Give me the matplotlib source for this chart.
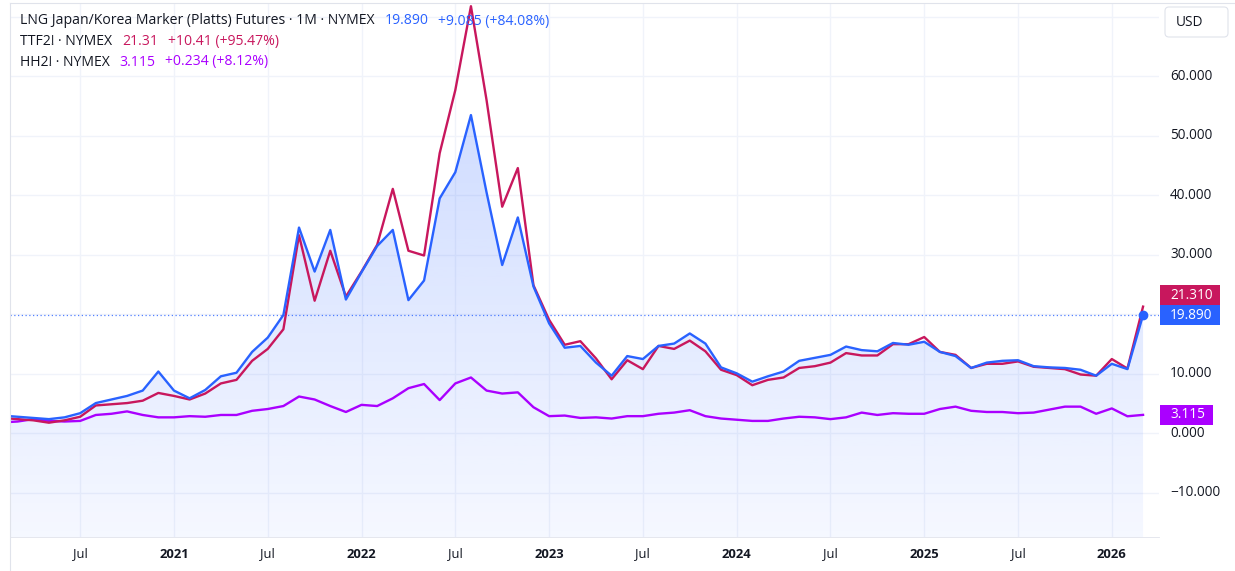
import numpy as np
import matplotlib
matplotlib.use("Agg")
import matplotlib.pyplot as plt
import matplotlib.transforms as mtransforms
from matplotlib.colors import LinearSegmentedColormap
from matplotlib.patches import Rectangle, FancyBboxPatch, Polygon
from matplotlib.lines import Line2D

plt.rcParams['font.family'] = ['Open Sans', 'DejaVu Sans']

# ---------------- data (monthly, Feb 2020 .. Mar 2026) ----------------
first_month = "2020-02"
lng = [3.0, 2.8, 2.6, 2.4, 2.7, 3.4, 5.1, 5.7, 6.3, 7.2, 10.4,
       7.2, 5.9, 7.3, 9.6, 10.2, 13.7, 16.1, 19.9, 34.6, 27.2, 34.2, 22.5,
       27.1, 31.5, 34.2, 22.4, 25.7, 39.5, 43.9, 53.5, 40.5, 28.3, 36.3, 24.7,
       18.5, 14.4, 14.7, 11.9, 9.7, 13.0, 12.5, 14.7, 15.1, 16.8, 15.1, 11.1,
       10.1, 8.7, 9.6, 10.4, 12.2, 12.7, 13.2, 14.6, 14.0, 13.8, 15.2, 14.9,
       15.4, 13.7, 13.0, 11.0, 11.9, 12.2, 12.3, 11.3, 11.1, 11.0, 10.7, 9.7,
       11.7, 10.805, 19.89]
ttf = [2.6, 2.4, 2.2, 1.8, 2.2, 2.8, 4.7, 4.9, 5.1, 5.5, 6.8,
       6.3, 5.7, 6.7, 8.4, 9.0, 12.2, 14.2, 17.5, 33.3, 22.3, 30.7, 23.0,
       27.2, 31.7, 41.1, 30.7, 29.9, 47.1, 57.7, 71.8, 56.0, 38.1, 44.6, 24.9,
       19.1, 14.9, 15.5, 12.6, 9.1, 12.3, 10.8, 14.7, 14.2, 15.6, 13.8, 10.7,
       9.8, 8.1, 9.0, 9.4, 11.0, 11.3, 11.9, 13.5, 13.1, 13.1, 15.0, 15.0,
       16.2, 13.7, 13.2, 11.0, 11.7, 11.7, 12.1, 11.2, 11.0, 10.8, 9.9, 9.7,
       12.5, 10.90, 21.31]
hh = [1.85, 2.0, 2.4, 2.1, 2.0, 2.1, 3.1, 3.3, 3.7, 3.1, 2.7,
      2.7, 2.9, 2.8, 3.1, 3.1, 3.8, 4.1, 4.6, 6.2, 5.7, 4.6, 3.6,
      4.8, 4.6, 5.9, 7.6, 8.3, 5.6, 8.4, 9.4, 7.2, 6.7, 6.9, 4.4,
      2.9, 3.0, 2.6, 2.7, 2.5, 2.9, 2.9, 3.3, 3.5, 3.9, 2.9, 2.5,
      2.3, 2.1, 2.1, 2.5, 2.8, 2.7, 2.4, 2.7, 3.5, 3.1, 3.4, 3.3,
      3.3, 4.1, 4.5, 3.8, 3.6, 3.6, 3.4, 3.5, 4.0, 4.5, 4.5, 3.3,
      4.2, 2.881, 3.115]

tick_months = ["2020-07", "2021-01", "2021-07", "2022-01", "2022-07", "2023-01",
               "2023-07", "2024-01", "2024-07", "2025-01", "2025-07", "2026-01"]
tick_labels = ["Jul", "2021", "Jul", "2022", "Jul", "2023",
               "Jul", "2024", "Jul", "2025", "Jul", "2026"]
y_ticks = [-10, 0, 10, 30, 40, 50, 60]
grid_y = [-10, 0, 10, 20, 30, 40, 50, 60, 70]

legend_rows = [
    ("LNG Japan/Korea Marker (Platts) Futures · 1M · NYMEX", "19.890", "+9.085 (+84.08%)"),
    ("TTF2! · NYMEX", "21.31", "+10.41 (+95.47%)"),
    ("HH2! · NYMEX", "3.115", "+0.234 (+8.12%)"),
]

BLUE = "#2962FF"
RED = "#C8175D"
PURPLE = "#AA00FF"
TXT = "#131722"
GRID = "#f0f3fa"
BORDER = "#e0e3eb"


def month_index(s):
    yy, mm = map(int, s.split("-"))
    return (yy - 2020) * 12 + (mm - 1)


x0 = month_index(first_month)
x = np.arange(x0, x0 + len(lng))

# ---------------- figure layout ----------------
W, H = 1235, 571
fig = plt.figure(figsize=(W / 100, H / 100), dpi=100)
fig.patch.set_facecolor("white")
L, R, T, B = 10, 1159, 3, 537
ax = fig.add_axes([L / W, 1 - B / H, (R - L) / W, (B - T) / H])
XMIN, XMAX = 1.51, 75.02
YMIN, YMAX = -17.41, 72.34
fs_x = 9.4
fs_y = 9.8
fs_leg = 10.1

# gradient area under LNG line
cmap = LinearSegmentedColormap.from_list(
    "g", [(41 / 255, 98 / 255, 1, 0.045), (41 / 255, 98 / 255, 1, 0.22)])
grad = np.linspace(0, 1, 256).reshape(-1, 1)
im = ax.imshow(grad, extent=[x[0], x[-1], YMIN, max(lng)], origin="lower",
               aspect="auto", cmap=cmap, zorder=1, interpolation="bilinear")
verts = list(zip(x, lng)) + [(x[-1], YMIN), (x[0], YMIN)]
poly = Polygon(verts, closed=True, facecolor="none", edgecolor="none")
ax.add_patch(poly)
im.set_clip_path(poly)

# grid
for v in grid_y:
    ax.axhline(v, color=GRID, lw=1.0, zorder=0)
for m in tick_months:
    ax.axvline(month_index(m), color=GRID, lw=1.0, zorder=0)

# lines
ax.axhline(lng[-1], color=BLUE, lw=0.9, ls=(0, (1, 2)), alpha=0.8, zorder=2)
ax.plot(x, hh, color=PURPLE, lw=1.7, zorder=3, solid_joinstyle="round")
ax.plot(x, ttf, color=RED, lw=1.7, zorder=4, solid_joinstyle="round")
ax.plot(x, lng, color=BLUE, lw=1.7, zorder=5, solid_joinstyle="round")
ax.plot(x[-1], lng[-1], "o", ms=6, color=BLUE, zorder=6)

ax.set_xlim(XMIN, XMAX)
ax.set_ylim(YMIN, YMAX)
ax.set_xticks([])
ax.set_yticks([])
for s in ax.spines.values():
    s.set_visible(False)

# y labels
ty = mtransforms.blended_transform_factory(ax.transAxes, ax.transData)
lx = (1170 - L) / (R - L)
for v in y_ticks:
    ax.text(lx, v, f"{v:.3f}".replace("-", "\u2212"), transform=ty, ha="left",
            va="center", fontsize=fs_y, color=TXT, clip_on=False)

# x labels
tx = mtransforms.blended_transform_factory(ax.transData, ax.transAxes)
ly = -(554 - B) / (B - T)
for m, lab in zip(tick_months, tick_labels):
    ax.text(month_index(m), ly, lab, transform=tx, ha="center", va="center",
            fontsize=fs_x, color=TXT, fontweight="bold" if lab.isdigit() else "normal",
            clip_on=False)

# borders
pix = fig.dpi_scale_trans


def P(xp, yp):
    return (xp / 100, (H - yp) / 100)


fig.add_artist(Line2D([L / 100, L / 100], [0, (H - T) / 100], transform=pix,
                      color=BORDER, lw=0.8))
fig.add_artist(Line2D([L / 100, W / 100], [(H - T) / 100, (H - T) / 100], transform=pix,
                      color=BORDER, lw=0.8))
fig.add_artist(Line2D([L / 100, R / 100], [(H - B) / 100, (H - B) / 100], transform=pix,
                      color=BORDER, lw=0.6))


# price boxes
def ypx(v):
    return T + (YMAX - v) / (YMAX - YMIN) * (B - T)


def price_box(text, yc, color, x_right):
    fig.add_artist(Rectangle(P(1160, yc + 10), (x_right - 1160) / 100, 0.20,
                             transform=pix, facecolor=color, edgecolor="none"))
    fig.text(*P(1170, yc), text, transform=pix, ha="left", va="center",
             fontsize=fs_y, color="white")


yb = ypx(lng[-1])
price_box(f"{lng[-1]:.3f}", yb, BLUE, 1220)
price_box(f"{ttf[-1]:.3f}", yb - 20, RED, 1220)
price_box(f"{hh[-1]:.3f}", ypx(hh[-1]), PURPLE, 1213)

# USD box
fig.add_artist(FancyBboxPatch(P(1165, 37), 0.63, 0.30,
                              boxstyle="round,pad=0,rounding_size=0.04",
                              transform=pix, facecolor="white", edgecolor=BORDER, lw=0.8))
fig.text(*P(1176, 22), "USD", transform=pix, ha="left", va="center",
         fontsize=fs_y, color=TXT)

# legend
colors = [BLUE, RED, PURPLE]
for i, (name, val, chg) in enumerate(legend_rows):
    yc = 21 + 20.5 * i
    t1 = fig.text(*P(20, yc), name, transform=pix, ha="left", va="center",
                  fontsize=fs_leg, color=TXT, zorder=10)
    t2 = ax.annotate(val, xy=(1, 0.5), xycoords=t1, xytext=(7, 0),
                     textcoords="offset points", ha="left", va="center",
                     fontsize=fs_leg, color=colors[i], annotation_clip=False, zorder=10)
    ax.annotate(chg, xy=(1, 0.5), xycoords=t2, xytext=(7, 0),
                textcoords="offset points", ha="left", va="center",
                fontsize=fs_leg, color=colors[i], annotation_clip=False, zorder=10)

fig.savefig("out.png", dpi=100, facecolor="white")
